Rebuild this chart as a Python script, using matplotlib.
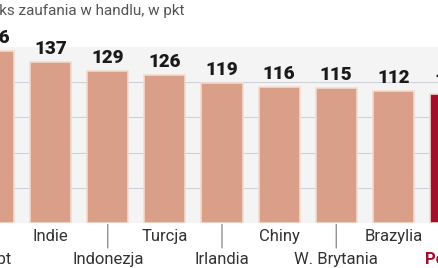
import matplotlib.pyplot as plt

# dane: indeks zaufania w handlu
kraje = ["Egipt", "Indie", "Indonezja", "Turcja", "Irlandia", "Chiny",
         "W. Brytania", "Brazylia", "Polska"]
wartosci = [146, 137, 129, 126, 119, 116, 115, 112, 110]
kolory = ["#d99f88"] * 8 + ["#a30f2b"]

plt.rcParams["font.family"] = ["Roboto", "DejaVu Sans"]

fig = plt.figure(figsize=(4.39, 2.68), dpi=100)
W, H = 439, 268
# os wychodzi poza kadr (wycinek wiekszej grafiki)
ax = fig.add_axes([-35 / W, 45 / H, 514 / W, 176.25 / H])
ax.set_facecolor("#f4f4f5")

x = range(len(kraje))
ax.bar(x, wartosci, width=0.72, color=kolory, edgecolor="#f3dbd0",
       linewidth=1.2, zorder=3)

for i, v in enumerate(wartosci):
    ax.text(i, v + 3.5, str(v), ha="center", va="bottom", fontsize=13.5,
            fontweight="heavy", color="#1a1a1a")

ax.set_xlim(-0.5, 8.5)
ax.set_ylim(0, 150)
ax.set_yticks([30, 60, 90, 120])
ax.grid(axis="y", color="#cfd0d8", linewidth=0.8, zorder=0)
ax.tick_params(left=False, bottom=False, labelleft=False, labelbottom=False)
for s in ax.spines.values():
    s.set_visible(False)

# podpisy krajow naprzemiennie w dwoch rzedach
for i, k in enumerate(kraje):
    if i % 2 == 1:
        ax.annotate(k, (i, 0), xytext=(0, -9.5), textcoords="offset points",
                    ha="center", va="center", fontsize=12, color="#333333",
                    annotation_clip=False)
    else:
        kol = "#a30f2b" if k == "Polska" else "#333333"
        waga = "bold" if k == "Polska" else "normal"
        ax.annotate(k, (i, 0), xytext=(0, -26), textcoords="offset points",
                    ha="center", va="center", fontsize=12, color=kol,
                    fontweight=waga, annotation_clip=False)
        if k != "Polska":
            ax.annotate("", (i, 0), xytext=(0, -18), textcoords="offset points",
                        arrowprops=dict(arrowstyle="-", color="#777777", lw=0.8,
                                        shrinkA=0, shrinkB=1),
                        annotation_clip=False)

fig.text(185 / W, (H - 15) / H, "Indeks zaufania w handlu, w pkt",
         ha="right", va="baseline", fontsize=11, color="#555555")

fig.savefig("out.png", dpi=100)
